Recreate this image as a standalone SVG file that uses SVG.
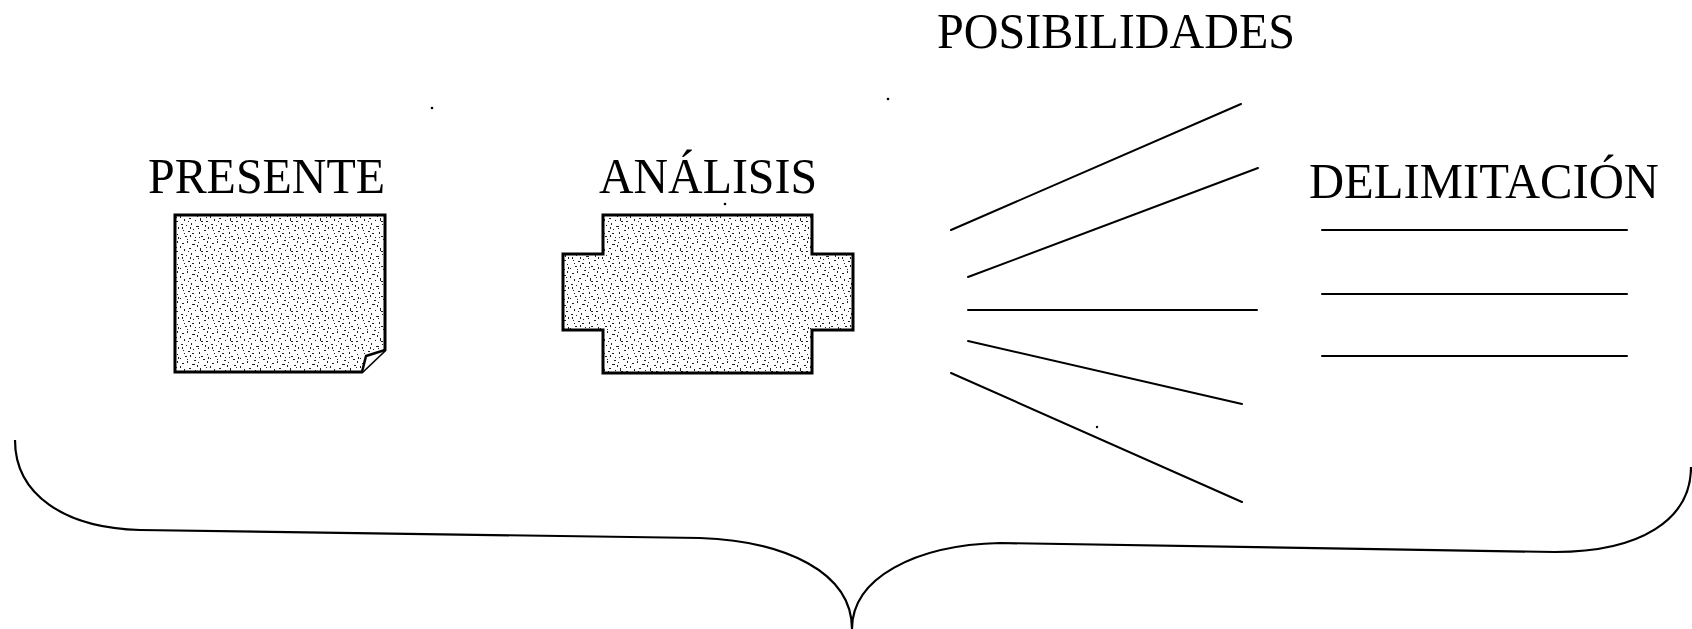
<svg xmlns="http://www.w3.org/2000/svg" width="1692" height="629" viewBox="0 0 1692 629">
<style>
.lbl{font-family:"Liberation Serif","Times New Roman",serif;font-size:50px;fill:#000}
.shape{fill:url(#stip);stroke:#000;stroke-width:3;stroke-linejoin:miter}
.ln{stroke:#000;stroke-width:2;fill:none;stroke-linecap:round}
.brace{stroke:#000;stroke-width:2.2;fill:none}
</style>
<defs>
<pattern id="stip" patternUnits="userSpaceOnUse" width="30" height="30">
<rect width="30" height="30" fill="#fff"/>
<g fill="#222">
<rect x="2" y="3" width="2" height="1"/><rect x="7" y="1" width="1" height="2"/><rect x="12" y="4" width="3" height="1"/><rect x="18" y="2" width="1" height="1"/><rect x="24" y="5" width="2" height="1"/><rect x="27" y="1" width="1" height="2"/>
<rect x="4" y="9" width="1" height="2"/><rect x="9" y="8" width="2" height="1"/><rect x="15" y="10" width="1" height="1"/><rect x="20" y="8" width="1" height="3"/><rect x="26" y="11" width="2" height="1"/>
<rect x="1" y="14" width="2" height="1"/><rect x="6" y="15" width="1" height="1"/><rect x="11" y="13" width="1" height="2"/><rect x="16" y="16" width="3" height="1"/><rect x="22" y="14" width="1" height="1"/><rect x="28" y="17" width="1" height="2"/>
<rect x="3" y="20" width="1" height="1"/><rect x="8" y="21" width="2" height="1"/><rect x="13" y="19" width="1" height="1"/><rect x="19" y="22" width="1" height="2"/><rect x="24" y="20" width="2" height="1"/>
<rect x="5" y="26" width="2" height="1"/><rect x="10" y="25" width="1" height="2"/><rect x="15" y="27" width="1" height="1"/><rect x="21" y="26" width="2" height="1"/><rect x="27" y="24" width="1" height="1"/><rect x="0" y="28" width="1" height="1"/><rect x="17" y="5" width="1" height="2"/><rect x="23" y="29" width="2" height="1"/>
<rect x="0" y="6" width="1" height="2"/><rect x="14" y="0" width="2" height="1"/><rect x="21" y="11" width="2" height="1"/><rect x="8" y="11" width="1" height="1"/><rect x="25" y="15" width="1" height="2"/><rect x="2" y="17" width="1" height="2"/><rect x="18" y="18" width="1" height="1"/><rect x="12" y="23" width="2" height="1"/><rect x="28" y="27" width="1" height="2"/><rect x="7" y="29" width="1" height="1"/><rect x="4" y="23" width="1" height="1"/><rect x="26" y="7" width="1" height="1"/><rect x="10" y="17" width="1" height="2"/><rect x="19" y="27" width="1" height="1"/>
</g>
</pattern>
</defs>

<g id="presente">
<text class="lbl" x="148" y="193" textLength="237" lengthAdjust="spacingAndGlyphs">PRESENTE</text>
<path class="shape" d="M175,215 H385 V350 L362,372 H175 Z"/>
<path d="M362,372 L366,356 L385,350" fill="#fff" stroke="#000" stroke-width="2.5" stroke-linejoin="round"/>
</g>

<g id="analisis">
<text class="lbl" x="599" y="193" textLength="218" lengthAdjust="spacingAndGlyphs">ANÁLISIS</text>
<path class="shape" d="M603,215 H812 V254 H853 V330 H812 V373 H603 V330 H563 V254 H603 Z"/>
</g>

<g id="posibilidades">
<text class="lbl" x="937" y="48" textLength="358" lengthAdjust="spacingAndGlyphs">POSIBILIDADES</text>
</g>

<g id="delimitacion">
<text class="lbl" x="1309" y="198" textLength="350" lengthAdjust="spacingAndGlyphs">DELIMITACIÓN</text>
<line class="ln" x1="1322" y1="230" x2="1627" y2="230"/>
<line class="ln" x1="1322" y1="294" x2="1627" y2="294"/>
<line class="ln" x1="1322" y1="356" x2="1627" y2="356"/>
</g>

<g id="connectors">
<line class="ln" x1="951" y1="230" x2="1241" y2="104"/>
<line class="ln" x1="968" y1="277" x2="1258" y2="168"/>
<line class="ln" x1="968" y1="310" x2="1257" y2="310"/>
<line class="ln" x1="968" y1="341" x2="1242" y2="404"/>
<line class="ln" x1="951" y1="373" x2="1242" y2="502"/>
</g>

<g id="brace">
<path class="brace" d="M15,440 C15,495 65,528 140,530 L700,538 C785,541 852,572 852,629 C852,578 915,545 1000,543 L1555,552 C1640,552 1691,520 1691,467"/>
</g>

<g id="specks" fill="#000">
<circle cx="432" cy="108" r="1.3"/>
<circle cx="888" cy="99" r="1.3"/>
<circle cx="725" cy="204" r="1.3"/>
<circle cx="1097" cy="427" r="1.2"/>
</g>
</svg>
